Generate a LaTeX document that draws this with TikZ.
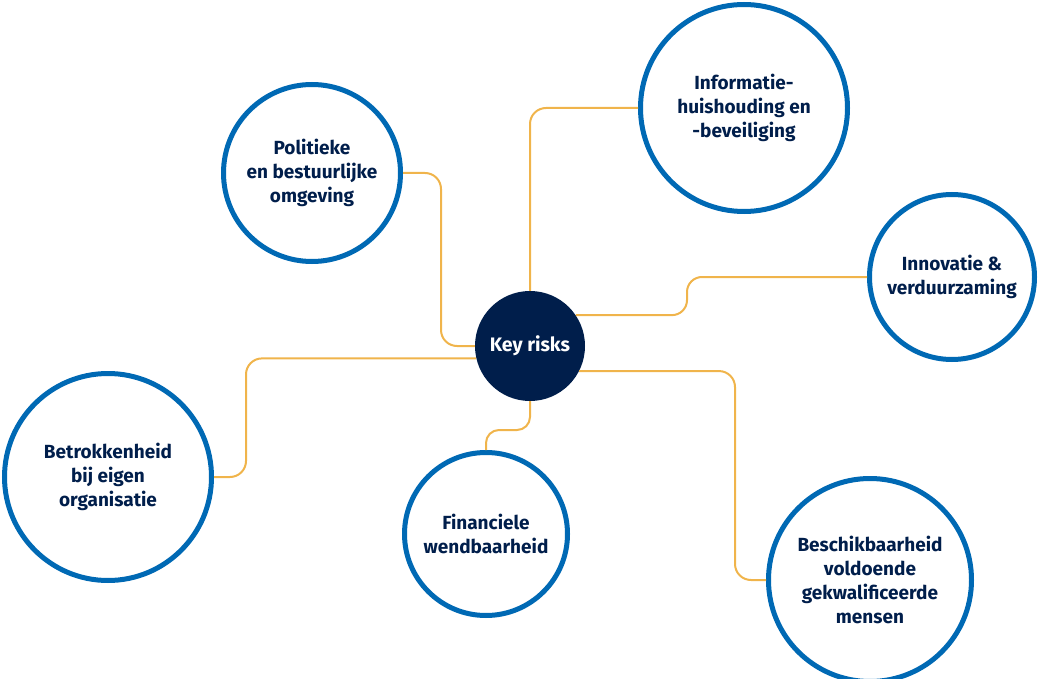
\documentclass[tikz,border=0pt]{standalone}
\usepackage{fontspec}
\setmainfont{Fira Sans}
\usepackage{tikz}
\usetikzlibrary{calc,positioning}

\definecolor{riskblue}{RGB}{0,105,180}
\definecolor{risknavy}{RGB}{0,30,75}
\definecolor{riskorange}{RGB}{240,180,75}

\begin{document}
\begin{tikzpicture}[x=1pt,y=-1pt,
    risk/.style={circle,draw=riskblue,line width=5pt,fill=white,inner sep=0pt,
                 align=center,text=risknavy,font=\fontsize{19}{24}\selectfont\bfseries},
    hub/.style={circle,fill=risknavy,inner sep=0pt,minimum size=110pt,
                text=white,font=\fontsize{19.5}{24}\selectfont\bfseries},
    link/.style={draw=riskorange,line width=2pt,rounded corners=16pt}]

  \useasboundingbox (0,0) rectangle (1039,679);
%
  \node [hub] (key) at (530,346) {Key risks};
%
  \node [risk,minimum size=177pt] (pol)   at (312,173) {Politieke\\en bestuurlijke\\omgeving};
  \node [risk,minimum size=207pt] (info)  at (744,108) {Informatie-\\huishouding en\\-beveiliging};
  \node [risk,minimum size=165pt] (inno)  at (952,277) {Innovatie \&\\verduurzaming};
  \node [risk,minimum size=207pt] (betr)  at (108,477) {Betrokkenheid\\bij eigen\\organisatie};
  \node [risk,minimum size=163pt] (fin)   at (486,534) {Financiele\\wendbaarheid};
  \node [risk,minimum size=203pt] (besch) at (870,580) {Beschikbaarheid\\voldoende\\gekwalificeerde\\mensen};
%
  \draw [link] (pol.east) -| (441,346) -- (key.west) ;
  \draw [link] (key.north) |- (info.west) ;
  \draw [link,rounded corners=15pt] (key.34) -| (687,277) -- (inno.west) ;
  \draw [link] (key.193) -| (246,477) -- (betr.east) ;
  \draw [link,rounded corners=13pt] (key.south) -- (530,430) -| (fin.north) ;
  \draw [link] (key.-27) -| (735,580) -- (besch.west) ;

\end{tikzpicture}
\end{document}
